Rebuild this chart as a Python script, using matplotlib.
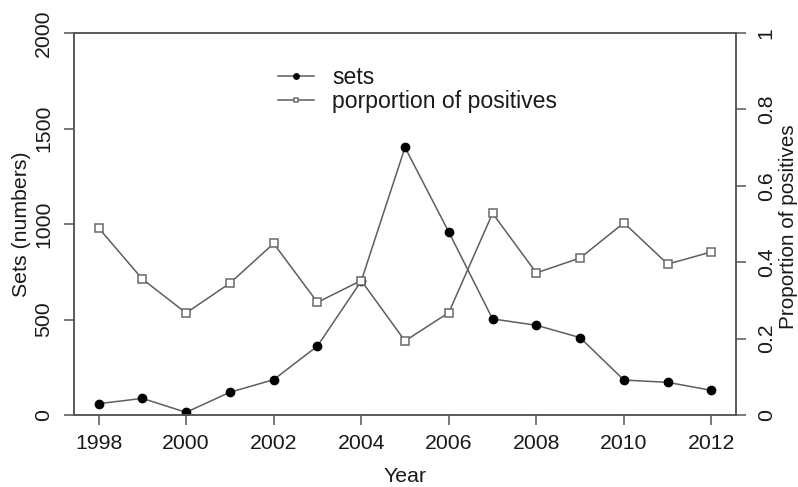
import matplotlib
matplotlib.use("Agg")
import matplotlib.pyplot as plt

plt.rcParams['font.family'] = ['Liberation Sans', 'DejaVu Sans']

years = [1998, 1999, 2000, 2001, 2002, 2003, 2004, 2005, 2006, 2007, 2008, 2009, 2010, 2011, 2012]
sets = [59, 87, 14, 119, 185, 361, 701, 1401, 958, 503, 470, 405, 183, 171, 129]
proportion = [0.490, 0.356, 0.267, 0.345, 0.449, 0.295, 0.352, 0.194, 0.268,
              0.528, 0.372, 0.411, 0.503, 0.395, 0.427]

left_ticks = [0, 500, 1000, 1500, 2000]
right_ticks = [0, 0.2, 0.4, 0.6, 0.8, 1]
right_labels = ['0', '0.2', '0.4', '0.6', '0.8', '1']
x_ticks = [1998, 2000, 2002, 2004, 2006, 2008, 2010, 2012]

W, H = 798, 487
fig = plt.figure(figsize=(W / 100, H / 100), dpi=100)
ax = fig.add_axes([74 / W, (H - 415) / H, (736 - 74) / W, (415 - 33) / H])
ax2 = ax.twinx()

line_col = '#5e5e5e'
text_col = '#1a1a1a'
fs = 15.3

l1, = ax.plot(years, sets, color=line_col, lw=1.1, marker='o', markersize=6,
              markerfacecolor='black', markeredgecolor='black', label='sets')
l2, = ax2.plot(years, proportion, color=line_col, lw=1.1, marker='s', markersize=5.5,
               markerfacecolor='white', markeredgecolor='#6a6a6a', markeredgewidth=1.1,
               label='porportion of positives')

ax.set_xlim(1997.44, 2012.56)
ax.set_ylim(0, 2000)
ax2.set_ylim(0, 1)

ax.set_xticks(x_ticks)
ax.set_yticks(left_ticks)
ax.set_yticklabels([str(t) for t in left_ticks], rotation=90, va='center')
ax2.set_yticks(right_ticks)
ax2.set_yticklabels(right_labels, rotation=90, va='center')

for a in (ax, ax2):
    for s in a.spines.values():
        s.set_color('#555555')
        s.set_linewidth(1.1)
    a.tick_params(direction='out', length=7, width=1.1, color='#555555',
                  labelsize=fs, labelcolor=text_col, pad=8)
ax.tick_params(axis='x', pad=7)

# axis titles placed in figure pixels
fig.text(405 / W, 1 - 476 / H, 'Year', fontsize=fs, color=text_col,
         ha='center', va='center')
fig.text(22 / W, 1 - 224 / H, 'Sets (numbers)', fontsize=fs, color=text_col,
         ha='center', va='center', rotation=90)
fig.text(788 / W, 1 - 227 / H, 'Proportion of positives', fontsize=14.9, color=text_col,
         ha='center', va='center', rotation=90)

leg = ax2.legend(handles=[l1, l2], loc='upper left',
                 bbox_to_anchor=(278 / W, (H - 66) / H), bbox_transform=fig.transFigure,
                 frameon=False, fontsize=16.6, handlelength=1.57, handletextpad=0.78,
                 labelspacing=0.06, borderaxespad=0, borderpad=0, markerscale=0.65)
for t in leg.get_texts():
    t.set_color(text_col)

fig.savefig('out.png', dpi=100)
